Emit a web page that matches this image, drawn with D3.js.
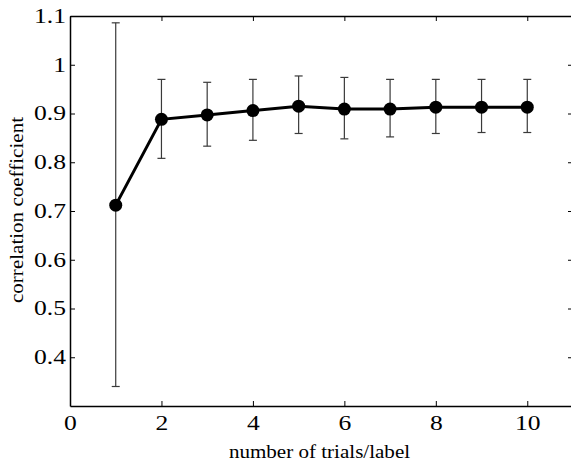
<!DOCTYPE html>
<html>
<head>
<meta charset="utf-8">
<script src="https://cdn.jsdelivr.net/npm/d3@7"></script>
<style>
  html, body { margin: 0; padding: 0; background: #fff; overflow: hidden; }
  svg { display: block; }
  text { font-family: "Liberation Serif", "Times New Roman", serif; fill: #000; }
</style>
</head>
<body>
<script>
// Mean correlation coefficient vs. number of trials per label, with error bars
const trials   = [1, 2, 3, 4, 5, 6, 7, 8, 9, 10];
const meanCorr = [0.712, 0.888, 0.897, 0.906, 0.915, 0.909, 0.909, 0.913, 0.913, 0.913];
const upper    = [1.086, 0.970, 0.964, 0.970, 0.977, 0.974, 0.970, 0.970, 0.970, 0.970];
const lower    = [0.340, 0.808, 0.833, 0.845, 0.859, 0.848, 0.852, 0.859, 0.861, 0.861];
const xTicks   = [0, 2, 4, 6, 8, 10];
const yTicks   = [0.4, 0.5, 0.6, 0.7, 0.8, 0.9, 1.0, 1.1];

const W = 571, H = 466;
const margin = { left: 70, top: 16, right: -2, bottom: 60 };
// Text is set slightly widened horizontally
const tickSize = 20, tickStretch = 1.28;
const titleSize = 19.5, titleStretch = 1.08;

const svg = d3.select("body").append("svg").attr("width", W).attr("height", H);

const x = d3.scaleLinear().domain([0, 11]).range([margin.left, W - margin.right]);
const y = d3.scaleLinear().domain([0.3, 1.1]).range([H - margin.bottom, margin.top]);

const tickLen = 5;
const fmt = d => (d === 1 ? "1" : d3.format("")(d));

// Axes with inward ticks on all four sides
const gBottom = svg.append("g").attr("transform", `translate(0,${y(0.3)})`)
  .call(d3.axisBottom(x).tickValues(xTicks).tickSizeInner(-tickLen).tickSizeOuter(0).tickPadding(10).tickFormat(fmt));
const gTop = svg.append("g").attr("transform", `translate(0,${y(1.1)})`)
  .call(d3.axisTop(x).tickValues(xTicks).tickSizeInner(-tickLen).tickSizeOuter(0).tickFormat(""));
const gLeft = svg.append("g").attr("transform", `translate(${x(0)},0)`)
  .call(d3.axisLeft(y).tickValues(yTicks).tickSizeInner(-tickLen).tickSizeOuter(0).tickPadding(4).tickFormat(fmt));
const gRight = svg.append("g").attr("transform", `translate(${x(11)},0)`)
  .call(d3.axisRight(y).tickValues(yTicks).tickSizeInner(-tickLen).tickSizeOuter(0).tickFormat(""));

[gBottom, gTop, gLeft, gRight].forEach(g => {
  g.attr("font-family", null).attr("font-size", null);
  g.select(".domain").attr("stroke", "#000").attr("stroke-width", 1.5);
  g.selectAll(".tick line").attr("stroke", "#000").attr("stroke-width", 1);
  g.selectAll(".tick text").each(function () {
    const t = d3.select(this);
    const tx = +t.attr("x") || 0, ty = +t.attr("y") || 0;
    t.attr("x", 0).attr("y", 0)
     .attr("transform", `translate(${tx},${ty}) scale(${tickStretch},1)`)
     .attr("font-size", tickSize).attr("fill", "#000");
  });
});

// Error bars
const capHalf = 4;
const eb = svg.append("g").attr("stroke", "#3a3a3a").attr("stroke-width", 1.2);
trials.forEach((t, i) => {
  eb.append("line").attr("x1", x(t)).attr("x2", x(t)).attr("y1", y(upper[i])).attr("y2", y(lower[i]));
  eb.append("line").attr("x1", x(t) - capHalf).attr("x2", x(t) + capHalf).attr("y1", y(upper[i])).attr("y2", y(upper[i]));
  eb.append("line").attr("x1", x(t) - capHalf).attr("x2", x(t) + capHalf).attr("y1", y(lower[i])).attr("y2", y(lower[i]));
});

// Mean line and markers
const pts = trials.map((t, i) => [t, meanCorr[i]]);
svg.append("path")
  .attr("d", d3.line().x(d => x(d[0])).y(d => y(d[1]))(pts))
  .attr("fill", "none").attr("stroke", "#000").attr("stroke-width", 3);
svg.append("g").selectAll("circle").data(pts).join("circle")
  .attr("cx", d => x(d[0])).attr("cy", d => y(d[1])).attr("r", 6.5).attr("fill", "#000");

// Axis titles
svg.append("text")
  .attr("transform", `translate(${(x(0) + x(11)) / 2 - 2},458) scale(${titleStretch},1)`)
  .attr("text-anchor", "middle").attr("font-size", titleSize)
  .text("number of trials/label");
svg.append("text")
  .attr("transform", `translate(23,210) rotate(-90) scale(${titleStretch},1)`)
  .attr("text-anchor", "middle").attr("font-size", titleSize)
  .text("correlation coefficient");
</script>
</body>
</html>
